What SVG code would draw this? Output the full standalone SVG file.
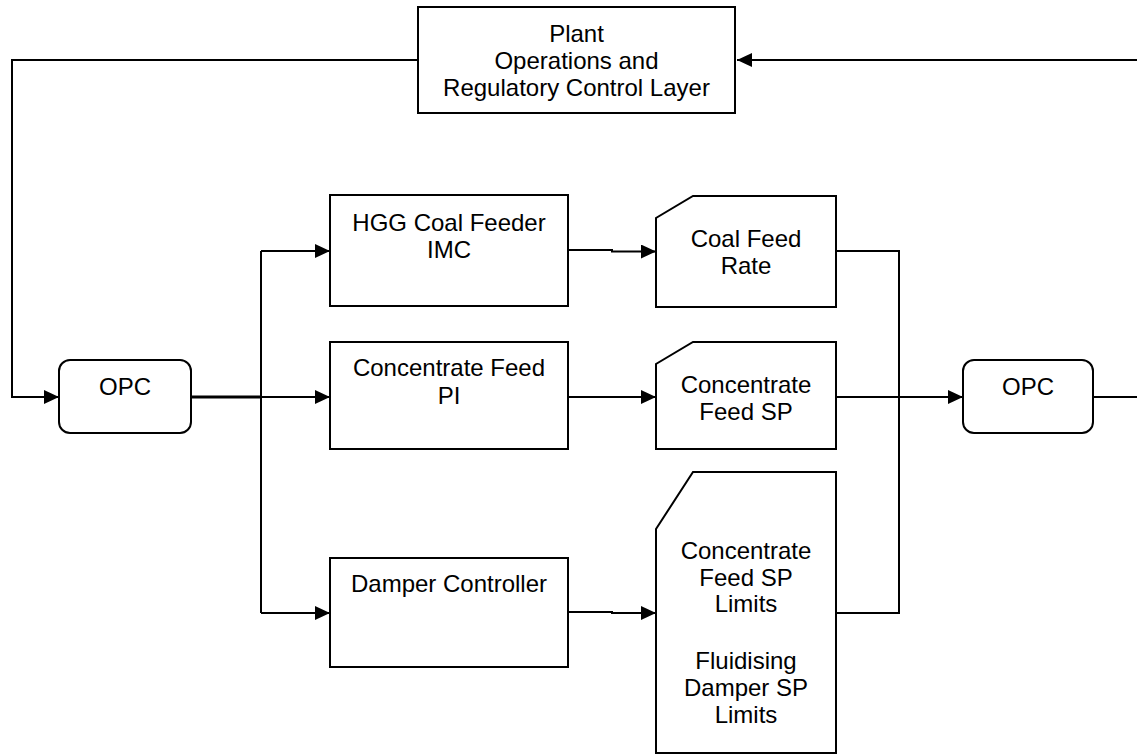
<svg xmlns="http://www.w3.org/2000/svg" width="1137" height="755" viewBox="0 0 1137 755">
  <style>
    .box { fill: #ffffff; stroke: #000000; stroke-width: 2; }
    .wire { fill: none; stroke: #000000; stroke-width: 2; }
    .lbl { font-family: "Liberation Sans", Arial, sans-serif; font-size: 24px; fill: #000000; text-anchor: middle; }
  </style>
  <defs>
    <marker id="arrow" markerUnits="userSpaceOnUse" markerWidth="15" markerHeight="14" refX="15" refY="7" orient="auto">
      <path d="M0,0 L15,7 L0,14 z" fill="#000000"/>
    </marker>
  </defs>

  <rect width="1137" height="755" fill="#ffffff"/>

  <!-- connectors -->
  <g id="connectors">
    <!-- supervisory layer down to left OPC -->
    <path class="wire" d="M418,60 H12 V397 H59" marker-end="url(#arrow)"/>
    <!-- return from right side into supervisory layer -->
    <path class="wire" d="M1137,60 H737" marker-end="url(#arrow)"/>
    <!-- left OPC to distribution bus -->
    <path class="wire" d="M191,397 H261" style="stroke-width:3"/>
    <path class="wire" d="M261,251 V613"/>
    <path class="wire" d="M261,251 H330" marker-end="url(#arrow)"/>
    <path class="wire" d="M261,397 H330" marker-end="url(#arrow)"/>
    <path class="wire" d="M261,613 H330" marker-end="url(#arrow)"/>
    <!-- controllers to outputs -->
    <path class="wire" d="M568,250 H612 V251.5 H656" marker-end="url(#arrow)"/>
    <path class="wire" d="M568,397 H656" marker-end="url(#arrow)"/>
    <path class="wire" d="M568,612 H612 V613 H656" marker-end="url(#arrow)"/>
    <!-- outputs to collector bus and right OPC -->
    <path class="wire" d="M836,251 H899 V613 H836"/>
    <path class="wire" d="M836,397 H963" marker-end="url(#arrow)"/>
    <path class="wire" d="M1093,397 H1137"/>
  </g>

  <g id="plant-layer">
    <rect class="box" x="418" y="7" width="317" height="106"/>
    <text class="lbl" x="576.5" y="42">Plant</text>
    <text class="lbl" x="576.5" y="69">Operations and</text>
    <text class="lbl" x="576.5" y="96">Regulatory Control Layer</text>
  </g>

  <g id="opc-left">
    <rect class="box" x="59" y="360" width="132" height="73" rx="11" ry="11"/>
    <text class="lbl" x="125" y="395">OPC</text>
  </g>

  <g id="opc-right">
    <rect class="box" x="963" y="360" width="130" height="73" rx="11" ry="11"/>
    <text class="lbl" x="1028" y="395">OPC</text>
  </g>

  <g id="hgg-coal-feeder">
    <rect class="box" x="330" y="195" width="238" height="111"/>
    <text class="lbl" x="449" y="231">HGG Coal Feeder</text>
    <text class="lbl" x="449" y="258">IMC</text>
  </g>

  <g id="concentrate-feed-pi">
    <rect class="box" x="330" y="342" width="238" height="107"/>
    <text class="lbl" x="449" y="376">Concentrate Feed</text>
    <text class="lbl" x="449" y="404">PI</text>
  </g>

  <g id="damper-controller">
    <rect class="box" x="330" y="558" width="238" height="109"/>
    <text class="lbl" x="449" y="592">Damper Controller</text>
  </g>

  <g id="coal-feed-rate">
    <path class="box" d="M693,196 H836 V307 H656 V218 Z"/>
    <text class="lbl" x="746" y="247">Coal Feed</text>
    <text class="lbl" x="746" y="274">Rate</text>
  </g>

  <g id="concentrate-feed-sp">
    <path class="box" d="M693,342 H836 V449 H656 V364 Z"/>
    <text class="lbl" x="746" y="393">Concentrate</text>
    <text class="lbl" x="746" y="420">Feed SP</text>
  </g>

  <g id="sp-limits">
    <path class="box" d="M693,472 H836 V753 H656 V529 Z"/>
    <text class="lbl" x="746" y="559">Concentrate</text>
    <text class="lbl" x="746" y="586">Feed SP</text>
    <text class="lbl" x="746" y="612">Limits</text>
    <text class="lbl" x="746" y="669">Fluidising</text>
    <text class="lbl" x="746" y="696">Damper SP</text>
    <text class="lbl" x="746" y="723">Limits</text>
  </g>
</svg>
